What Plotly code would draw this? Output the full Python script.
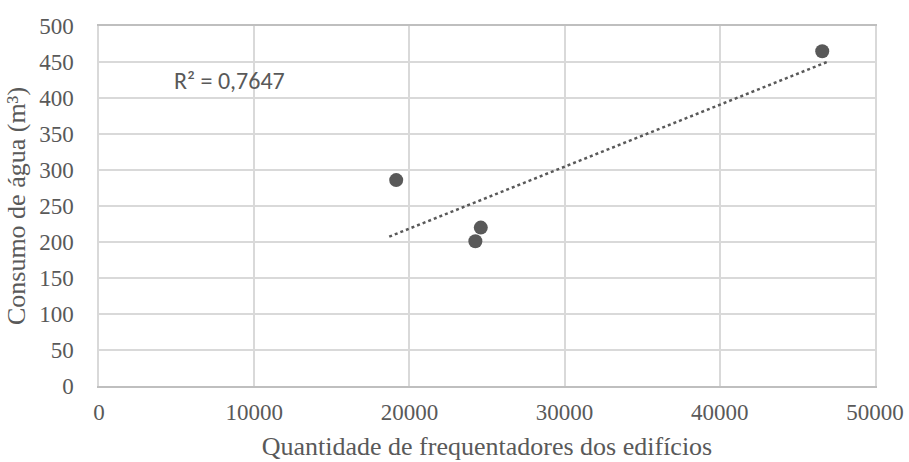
import numpy as np
import plotly.graph_objects as go

# Building occupancy vs. water consumption
frequentadores = [19150, 24600, 24250, 46600]
consumo = [286, 220, 201, 465]

x_ticks = [0, 10000, 20000, 30000, 40000, 50000]
y_ticks = [0, 50, 100, 150, 200, 250, 300, 350, 400, 450, 500]

# Linear trend line (least squares), extended slightly past the data
xa = np.array(frequentadores, dtype=float)
ya = np.array(consumo, dtype=float)
slope, intercept = np.polyfit(xa, ya, 1)
pred = slope * xa + intercept
r2 = 1 - np.sum((ya - pred) ** 2) / np.sum((ya - ya.mean()) ** 2)
forecast_back, forecast_fwd = 450, 300
trend_x = [xa.min() - forecast_back, xa.max() + forecast_fwd]
trend_y = [slope * v + intercept for v in trend_x]

grey = "#595959"
grid = "#d9d9d9"
serif = "Liberation Serif, Times New Roman, serif"

fig = go.Figure()
fig.add_trace(go.Scatter(
    x=trend_x, y=trend_y, mode="lines",
    line=dict(color=grey, width=2.5, dash="dot"),
    hoverinfo="skip", showlegend=False,
))
fig.add_trace(go.Scatter(
    x=frequentadores, y=consumo, mode="markers",
    marker=dict(color=grey, size=14),
    showlegend=False,
))

fig.add_annotation(
    x=4700, y=425, xref="x", yref="y", xanchor="left", yanchor="middle",
    text="R² = 0,7647", showarrow=False,
    font=dict(family="Carlito, Lato, Liberation Sans, sans-serif", size=24, color=grey),
)

fig.update_layout(
    width=909, height=462,
    margin=dict(l=99, r=34, t=26, b=76),
    paper_bgcolor="white", plot_bgcolor="white",
    font=dict(family=serif, size=23, color=grey),
)
fig.update_xaxes(
    range=[0, 50000], tickvals=x_ticks, ticktext=[str(v) for v in x_ticks],
    tickfont=dict(family=serif, size=23, color=grey),
    showgrid=True, gridcolor=grid, gridwidth=1.5,
    showline=True, linecolor="#bfbfbf", linewidth=1.5, mirror=True,
    zeroline=False, ticks="", ticklabelstandoff=5,
    title=dict(text="Quantidade de frequentadores dos edifícios", standoff=12,
               font=dict(family=serif, size=26, color=grey)),
    automargin=False,
)
fig.update_yaxes(
    range=[0, 500], tickvals=y_ticks, ticktext=[str(v) for v in y_ticks],
    tickfont=dict(family=serif, size=23, color=grey),
    showgrid=True, gridcolor=grid, gridwidth=1.5,
    showline=True, linecolor=grid, linewidth=1.5, mirror=True,
    zeroline=False, ticks="", ticklabelstandoff=19,
    title=dict(text="Consumo de água (m³)", standoff=6,
               font=dict(family=serif, size=26, color=grey)),
    automargin=False,
)

fig.write_html("out.html")
